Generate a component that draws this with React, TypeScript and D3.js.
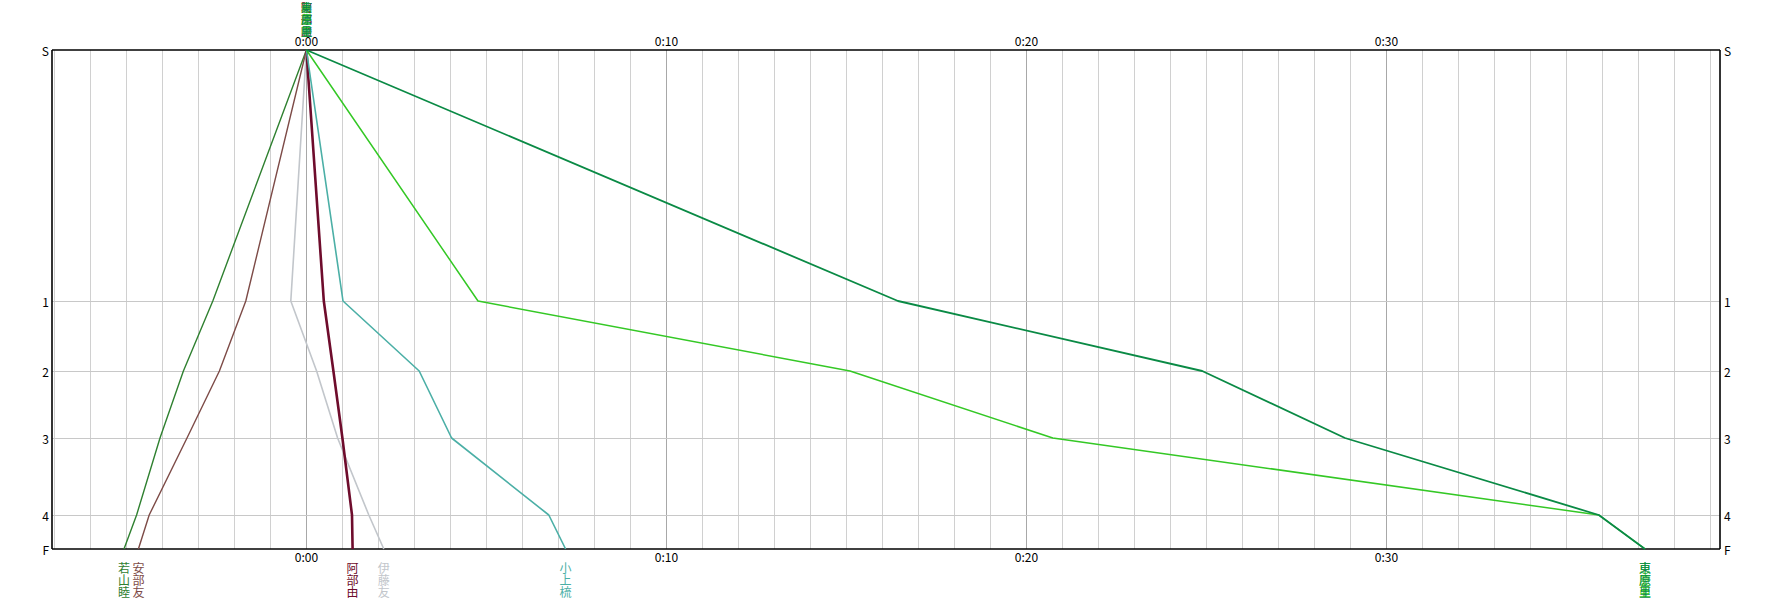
import React from "react";
import * as d3 from "d3";

const checkpoints = ["S", "1", "2", "3", "4", "F"];
const checkpointDistance = [0, 251, 321, 388, 465, 499];
const timeTicks = [0, 600, 1200, 1800];

const runnerNames = ["若山睦", "安部友", "伊藤友", "阿部由", "小上梳", "恵慶亜", "東原里"];
const runnerColors = ["#2f8030", "#7d4b47", "#c2c6cb", "#6e0c2c", "#4bafa6", "#34c825", "#0a8a45"];
const runnerWidths = [1.4, 1.4, 1.6, 2.6, 1.6, 1.5, 1.8];

const timesWakayama = [0, -156, -205, -244, -283, -304];
const timesAbeTomo = [0, -101, -145, -199, -262, -280];
const timesItoTomo = [0, -26, 17, 52, 104, 129];
const timesAbeYu = [0, 29, 45, 60, 76, 77];
const timesKogami = [0, 61, 188, 242, 404, 432];
const timesLightGreen = [0, 286, 906, 1244, 2154, 2231];
const timesDarkGreen = [0, 986, 1493, 1731, 2154, 2231];

const runnerTimes = [timesWakayama, timesAbeTomo, timesItoTomo, timesAbeYu, timesKogami, timesLightGreen, timesDarkGreen];

const W = 1772;
const H = 600;
const left = 52;
const right = 1720;
const top = 50;
const bottom = 549;

const fmt = (s: number) => {
  const m = Math.round(s / 60);
  const h = Math.floor(m / 60);
  const mm = m % 60;
  return `${h}:${mm < 10 ? "0" + mm : mm}`;
};

export default function App() {
  const x = d3.scaleLinear().domain([-424, 2356]).range([left, right]);
  const y = d3.scaleLinear().domain([0, 499]).range([top, bottom]);
  const minutes = d3.range(-420, 2356, 60);
  const line = d3
    .line<[number, number]>()
    .x((d) => x(d[0]))
    .y((d) => y(d[1]));
  const font = "'Noto Sans CJK JP', 'DejaVu Sans', sans-serif";

  return (
    <svg
      width={W}
      height={H}
      style={{ position: "absolute", left: 0, top: 0, background: "#fff" }}
      fontFamily={font}
    >
      {minutes.map((m) => (
        <line
          key={"v" + m}
          x1={Math.round(x(m)) + 0.5}
          x2={Math.round(x(m)) + 0.5}
          y1={top}
          y2={bottom}
          stroke={m % 600 === 0 ? "#a8a8a8" : "#d0d0d0"}
          strokeWidth={1}
        />
      ))}
      {checkpointDistance.slice(1, -1).map((d, i) => (
        <line
          key={"h" + i}
          x1={left}
          x2={right}
          y1={Math.round(y(d)) + 0.5}
          y2={Math.round(y(d)) + 0.5}
          stroke="#c8c8c8"
          strokeWidth={1}
        />
      ))}
      <line x1={left} x2={right} y1={top} y2={top} stroke="#000" strokeWidth={1.6} />
      <line x1={left} x2={right} y1={bottom} y2={bottom} stroke="#000" strokeWidth={1.6} />
      <line x1={left} x2={left} y1={top} y2={bottom} stroke="#000" strokeWidth={1.6} />
      <line x1={right} x2={right} y1={top} y2={bottom} stroke="#000" strokeWidth={1.6} />

      {checkpoints.map((c, i) => (
        <g key={"c" + i} fontSize={12} fill="#000">
          <text x={left - 3} y={y(checkpointDistance[i])} textAnchor="end" dominantBaseline="central">
            {c}
          </text>
          <text x={right + 4} y={y(checkpointDistance[i])} textAnchor="start" dominantBaseline="central">
            {c}
          </text>
        </g>
      ))}

      {timeTicks.map((t) => (
        <g key={"t" + t} fontSize={12} fill="#000" textAnchor="middle">
          <text x={x(t)} y={top - 4}>
            {fmt(t)}
          </text>
          <text x={x(t)} y={bottom + 13}>
            {fmt(t)}
          </text>
        </g>
      ))}

      {runnerTimes.map((times, r) => (
        <path
          key={"r" + r}
          d={line(times.map((t, i) => [t, checkpointDistance[i]] as [number, number])) || ""}
          fill="none"
          stroke={runnerColors[r]}
          strokeWidth={runnerWidths[r]}
          strokeLinejoin="round"
        />
      ))}

      {runnerNames.map((n, r) => (
        <text
          key={"tn" + r}
          x={x(runnerTimes[r][0])}
          y={0}
          fontSize={11}
          fill={runnerColors[r]}
          textAnchor="middle"
        >
          {n.split("").map((ch, i) => (
            <tspan key={i} x={x(runnerTimes[r][0])} dy={i === 0 ? 11.5 : 12}>
              {ch}
            </tspan>
          ))}
        </text>
      ))}

      {runnerNames.map((n, r) => {
        const fx = x(runnerTimes[r][runnerTimes[r].length - 1]);
        return (
          <text key={"bn" + r} x={fx} y={561} fontSize={12} fill={runnerColors[r]} textAnchor="middle">
            {n.split("").map((ch, i) => (
              <tspan key={i} x={fx} dy={12}>
                {ch}
              </tspan>
            ))}
          </text>
        );
      })}
    </svg>
  );
}
